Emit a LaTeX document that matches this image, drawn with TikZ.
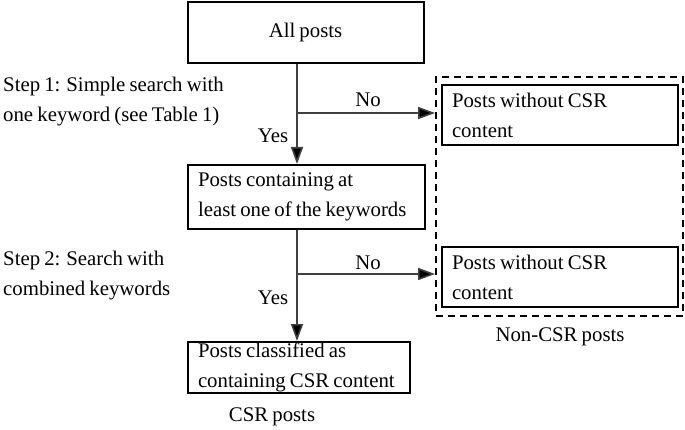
\documentclass[tikz,border=0pt]{standalone}
\usepackage{fontspec}
\setmainfont{Liberation Serif}[WordSpace=0.8]
\usetikzlibrary{arrows.meta,calc}
\begin{document}
\begin{tikzpicture}[x=1pt,y=-1pt,
  font=\fontsize{20.8}{30}\selectfont,
  box/.style={draw, line width=2pt, inner xsep=10pt, inner ysep=0pt, align=flush left},
  lbl/.style={inner sep=0pt},
  conn/.style={draw=black!75, line width=1.6pt, -{Triangle[length=17pt,width=12pt,fill=black]}}]
\useasboundingbox (0,0) rectangle (685,430);
% main column
\node[box, align=center, minimum width=236pt, minimum height=61pt] (b1) at (305.5,32.5) {All posts};
\node[box, text width=217pt, minimum height=64pt] (b2) at (306.5,197) {\mbox{Posts containing at}\\\mbox{least one of the keywords}};
\node[box, text width=202pt, minimum height=51pt] (b3) at (299,367.5) {\mbox{Posts classified as}\\\mbox{containing CSR content}};
\node[lbl] (csr) at (272,417) {CSR posts};
% non-CSR group
\node[draw, line width=1.8pt, dash pattern=on 7pt off 5pt, minimum width=247pt, minimum height=239pt] (nc) at (559.5,196.5) {};
\node[box, text width=216pt, minimum height=60pt] (n1) at (560,115) {\mbox{Posts without CSR}\\content};
\node[box, text width=216pt, minimum height=60pt] (n2) at (560,277) {\mbox{Posts without CSR}\\content};
\node[lbl] (ncl) at (560,337) {Non-CSR posts};
% step labels
\node[lbl, anchor=west, align=left] (s1) at (3,102) {Step 1: Simple search with\\one keyword (see Table 1)};
\node[lbl, anchor=west, align=left] (s2) at (3,276) {Step 2: Search with\\combined keywords};
% connectors
\coordinate (j1) at (297,113);
\coordinate (j2) at (297,274);
\draw[conn] (b1.south -| j1) -- (b2.north -| j1);
\draw[conn] (j1) -- (j1 -| nc.west);
\draw[conn] (b2.south -| j2) -- (b3.north -| j2);
\draw[conn] (j2) -- (j2 -| nc.west);
% branch labels
\node[lbl] (no1) at (368,100) {No};
\node[lbl] (yes1) at (273,136) {Yes};
\node[lbl] (no2) at (368,263) {No};
\node[lbl] (yes2) at (273,298) {Yes};
\end{tikzpicture}
\end{document}
